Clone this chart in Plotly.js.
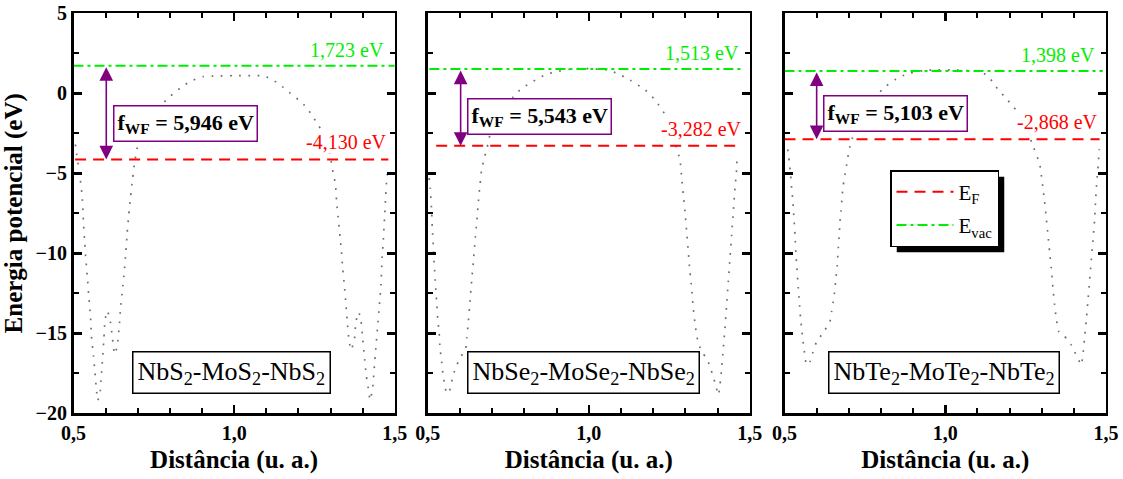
<!DOCTYPE html>
<html>
<head>
<meta charset="utf-8">
<script src="https://cdn.plot.ly/plotly-3.0.1.min.js"></script>
<style>
  html, body { margin: 0; padding: 0; background: #fff; }
  #chart { width: 1123px; height: 479px; }
</style>
</head>
<body>
<div id="chart"></div>
<script>
// Heterostructures, one panel each
const systems = [
  'NbS<sub>2</sub>-MoS<sub>2</sub>-NbS<sub>2</sub>',
  'NbSe<sub>2</sub>-MoSe<sub>2</sub>-NbSe<sub>2</sub>',
  'NbTe<sub>2</sub>-MoTe<sub>2</sub>-NbTe<sub>2</sub>'
];
const vacuumLevel = [1.723, 1.513, 1.398];     // eV
const fermiLevel = [-4.130, -3.282, -2.868];   // eV
const workFunction = [5.946, 5.543, 5.103];    // eV

// Planar-averaged electrostatic potential along the stacking direction
const distNbS = [0.506, 0.508, 0.520, 0.527, 0.531, 0.535, 0.539, 0.544, 0.548, 0.553, 0.556, 0.562, 0.567, 0.572, 0.575,
  0.582, 0.5865, 0.5905, 0.5947, 0.598, 0.605, 0.613, 0.621, 0.628, 0.636, 0.642, 0.6465, 0.652, 0.658, 0.663, 0.667,
  0.672, 0.6775, 0.684, 0.691, 0.701, 0.72, 0.75, 0.779, 0.80, 0.831, 0.862, 0.903, 0.944, 0.996, 1.058, 1.0895,
  1.121, 1.15, 1.172, 1.20, 1.224, 1.24, 1.262, 1.284, 1.298, 1.309, 1.315, 1.319, 1.325, 1.333, 1.338, 1.343, 1.348,
  1.353, 1.358, 1.364, 1.374, 1.379, 1.388, 1.395, 1.40, 1.405, 1.411, 1.419, 1.423, 1.431, 1.436, 1.441, 1.446,
  1.452, 1.457, 1.46, 1.464, 1.468, 1.472, 1.475, 1.478];
const potNbS = [-3.2, -3.54, -5.21, -6.46, -8.1, -9.4, -10.5, -11.7, -12.8, -14.0, -15.2, -16.4, -17.5, -18.65, -19.2,
  -18.85, -17.7, -16.56, -15.3, -14.2, -13.6, -14.06, -15.27, -16.3, -15.83, -14.65, -13.44, -12.3, -11.15, -9.9, -8.75,
  -7.6, -6.46, -5.31, -4.23, -3.19, -2.4, -1.4, -0.62, -0.21, 0.31, 0.73, 1.04, 1.08, 1.1, 1.1, 1.1,
  0.83, 0.42, 0.05, -0.4, -0.85, -1.3, -2.0, -2.71, -3.8, -5.06, -5.63, -6.77, -8.02, -9.69, -10.94, -11.98, -13.23,
  -14.48, -15.52, -16.04, -15.42, -14.27, -13.69, -14.27, -15.31, -16.35, -17.6, -18.65, -19.17, -18.44, -17.19, -15.94, -14.69,
  -13.23, -11.98, -10.52, -9.27, -7.81, -6.35, -5.31, -4.9];

const distNbSe = [0.504, 0.5076, 0.512, 0.514, 0.517, 0.520, 0.524, 0.5275, 0.5306, 0.535, 0.538, 0.543, 0.548, 0.553,
  0.5586, 0.566, 0.572, 0.579, 0.590, 0.603, 0.6176, 0.621, 0.626, 0.631, 0.636, 0.6415, 0.6466, 0.652, 0.657, 0.662,
  0.667, 0.6745, 0.683, 0.688, 0.693, 0.73, 0.7657, 0.7916, 0.8175, 0.8434, 0.8692, 0.900, 0.94, 0.978, 1.004, 1.056,
  1.087, 1.128, 1.175, 1.206, 1.247, 1.265, 1.2832, 1.2884, 1.2935, 1.2987, 1.3039, 1.309, 1.3142, 1.3194, 1.3245,
  1.3318, 1.338, 1.3504, 1.366, 1.3763, 1.3846, 1.3939, 1.4022, 1.4074, 1.4125, 1.4177, 1.4229, 1.428, 1.4332, 1.4384,
  1.4436, 1.4487, 1.4539, 1.459, 1.460];
const potNbSe = [-5.3, -5.94, -7.4, -8.44, -9.48, -10.73, -11.98, -13.02, -14.06, -14.9, -15.94, -16.77, -17.71, -18.23,
  -18.75, -18.69, -18.23, -17.6, -16.98, -16.46, -15.94, -15.31, -14.27, -13.02, -11.77, -10.52, -9.27, -8.02, -6.77, -5.73,
  -4.79, -4.17, -3.44, -3.13, -2.6, -1.2, -0.21, 0.31, 0.63, 0.94, 1.19, 1.35, 1.5, 1.56, 1.53, 1.46,
  1.25, 0.83, 0.21, -0.42, -1.67, -2.9, -4.17, -5.31, -6.35, -7.4, -8.65, -9.9, -11.15, -12.19, -13.44,
  -14.69, -15.42, -16.15, -16.56, -17.08, -17.6, -18.23, -18.85, -18.23, -17.19, -15.94, -14.69, -13.23, -11.77, -10.31,
  -8.85, -7.4, -5.94, -4.79, -4.2];

const distNbTe = [0.510, 0.5119, 0.515, 0.5191, 0.5222, 0.5253, 0.5274, 0.5295, 0.5326, 0.5357, 0.5378, 0.543, 0.546,
  0.550, 0.5533, 0.5564, 0.5606, 0.5637, 0.5689, 0.5792, 0.5875, 0.600, 0.6154, 0.6258, 0.6413, 0.6465, 0.6516, 0.6548,
  0.660, 0.6641, 0.6672, 0.6703, 0.6724, 0.6755, 0.6796, 0.6827, 0.6879, 0.6931, 0.6983, 0.7034, 0.7117, 0.75, 0.7914,
  0.807, 0.8473, 0.868, 0.8887, 0.930, 0.957, 1.035, 1.08, 1.1124, 1.1383, 1.154, 1.1693, 1.19, 1.2055, 1.2262, 1.2418,
  1.2521, 1.257, 1.275, 1.2936, 1.2988, 1.304, 1.3091, 1.3143, 1.3195, 1.3246, 1.3298, 1.335, 1.3402, 1.3453, 1.3536,
  1.366, 1.3815, 1.3919, 1.4022, 1.4126, 1.4229, 1.4281, 1.4332, 1.4384, 1.4436, 1.4487, 1.4539, 1.4591, 1.4642,
  1.4674, 1.4715, 1.4756, 1.4777, 1.479];
const potNbTe = [-3.5, -3.85, -4.27, -5.1, -5.94, -6.56, -7.19, -7.81, -8.85, -10.1, -10.73, -12.19, -13.02,
  -14.06, -14.69, -15.31, -15.94, -16.46, -16.98, -16.77, -16.25, -15.52, -15.1, -14.79, -14.27, -13.65, -13.02, -12.6,
  -11.56, -10.73, -9.69, -8.85, -8.02, -7.4, -6.35, -5.73, -5.1, -4.48, -3.85, -3.33, -2.77, -1.3, -0.06,
  0.31, 0.89, 1.1, 1.25, 1.42, 1.46, 1.46, 1.4, 1.35, 0.94, 0.52, 0.1, -0.31, -0.73, -1.15, -1.56,
  -1.98, -2.4, -3.4, -4.4, -5.1, -5.94, -6.77, -7.81, -8.85, -9.9, -10.94, -12.19, -13.23, -14.06, -14.9,
  -15.1, -15.42, -15.73, -16.15, -16.56, -16.98, -16.35, -15.31, -14.27, -13.02, -11.77, -10.52, -9.27, -8.02,
  -6.77, -5.52, -4.48, -3.85, -3.5];

const distances = [distNbS, distNbSe, distNbTe];
const potentials = [potNbS, potNbSe, potNbTe];

// Per-panel drawing placement
const panels = [
  { domain: [0.06545, 0.35155], efSpan: [0.505, 1.48], vacSpan: [0.50, 1.50], arrowX: 0.602, wfBox: [0.6236, -1.89], nameX: 0.991 },
  { domain: [0.38094, 0.66768], efSpan: [0.526, 1.459], vacSpan: [0.505, 1.475], arrowX: 0.602, wfBox: [0.6208, -1.43], nameX: 0.983 },
  { domain: [0.69858, 0.98486], efSpan: [0.50, 1.48], vacSpan: [0.50, 1.49], arrowX: 0.600, wfBox: [0.6205, -1.26], nameX: 0.997 }
];

const SERIF = 'Liberation Serif, Times New Roman, serif';
const RED = '#ff0000', GREEN = '#00ee00', PURPLE = '#800080';
const fmt = v => v.toFixed(3).replace('.', ',');

const traces = [];
const annotations = [];
const layout = {
  width: 1123, height: 479,
  margin: { l: 0, r: 0, t: 0, b: 0 },
  paper_bgcolor: '#fff', plot_bgcolor: '#fff',
  separators: ',.',
  font: { family: SERIF, color: '#000' },
  showlegend: true,
  legend: {
    x: 890 / 1123, y: 1 - 170 / 479, xanchor: 'left', yanchor: 'top',
    bgcolor: '#fff', bordercolor: '#000', borderwidth: 1.5,
    font: { family: SERIF, size: 21, color: '#000' },
    itemwidth: 57, tracegroupgap: 3, traceorder: 'grouped'
  },
  annotations: annotations,
  shapes: []
};

const frame = {
  showline: true, linecolor: '#000', linewidth: 2.5, mirror: 'allticks',
  ticks: 'inside', ticklen: 8, tickwidth: 2.5, tickcolor: '#000',
  showgrid: false, zeroline: false, fixedrange: true
};

panels.forEach((p, i) => {
  const s = i === 0 ? '' : String(i + 1);
  const xa = 'x' + s, ya = 'y' + s;

  layout['xaxis' + s] = Object.assign({}, frame, {
    domain: p.domain, anchor: ya, range: [0.5, 1.5],
    tick0: 0.5, dtick: 0.5, tickformat: '.1f',
    tickfont: { family: SERIF, size: 20, weight: 'bold' },
    minor: { dtick: 0.1, ticks: 'inside', ticklen: 5, tickwidth: 2, tickcolor: '#000', showgrid: false },
    title: { text: 'Distância (u. a.)', font: { family: SERIF, size: 25, weight: 'bold' }, standoff: 8 }
  });
  layout['yaxis' + s] = Object.assign({}, frame, {
    domain: [0.13716, 0.97223], anchor: xa, range: [-20, 5],
    tick0: 0, dtick: 5, showticklabels: i === 0,
    tickfont: { family: SERIF, size: 20, weight: 'bold' },
    minor: { dtick: 2.5, ticks: 'inside', ticklen: 5, tickwidth: 2, tickcolor: '#000', showgrid: false },
    title: i === 0 ? { text: 'Energia potencial (eV)', font: { family: SERIF, size: 25, weight: 'bold' }, standoff: 6 } : { text: '' }
  });

  // potential profile
  traces.push({
    x: distances[i], y: potentials[i], xaxis: xa, yaxis: ya,
    type: 'scatter', mode: 'lines', showlegend: false, hoverinfo: 'skip',
    line: { color: '#6e6e6e', width: 1.7, dash: '1.7px,7.5px', shape: 'spline', smoothing: 0.5 }
  });
  // Fermi level
  traces.push({
    x: p.efSpan, y: [fermiLevel[i], fermiLevel[i]], xaxis: xa, yaxis: ya,
    type: 'scatter', mode: 'lines', name: 'E<sub>F</sub>', legendgroup: 'ef', showlegend: i === 0,
    line: { color: RED, width: 2, dash: '11px,7px' }
  });
  // vacuum level
  traces.push({
    x: p.vacSpan, y: [vacuumLevel[i], vacuumLevel[i]], xaxis: xa, yaxis: ya,
    type: 'scatter', mode: 'lines', name: 'E<sub>vac</sub>', legendgroup: 'vac', showlegend: i === 0,
    line: { color: GREEN, width: 2, dash: '10px,4px,3px,4px' }
  });

  // level values
  annotations.push({
    xref: xa, yref: ya, x: 1.47, y: vacuumLevel[i], xanchor: 'right', yanchor: 'middle', yshift: 16,
    text: fmt(vacuumLevel[i]) + ' eV', showarrow: false, bgcolor: '#fff', borderpad: 0,
    font: { family: SERIF, size: 20, color: GREEN }
  });
  annotations.push({
    xref: xa, yref: ya, x: 1.478, y: fermiLevel[i], xanchor: 'right', yanchor: 'middle', yshift: 17,
    text: fmt(fermiLevel[i]) + ' eV', showarrow: false, bgcolor: '#fff', borderpad: 0,
    font: { family: SERIF, size: 20, color: RED }
  });

  // work-function double arrow between the two levels
  annotations.push({
    xref: xa, yref: ya, axref: xa, ayref: ya,
    x: p.arrowX, y: fermiLevel[i], ax: p.arrowX, ay: vacuumLevel[i],
    text: '', showarrow: true, arrowside: 'end+start', arrowhead: 2, arrowsize: 1.7,
    arrowwidth: 1.6, arrowcolor: PURPLE, standoff: 0, startstandoff: 0
  });
  annotations.push({
    xref: xa, yref: ya, x: p.wfBox[0], y: p.wfBox[1], xanchor: 'left', yanchor: 'middle',
    text: '<b>f<sub>WF</sub> = ' + fmt(workFunction[i]) + ' eV</b>', showarrow: false,
    bgcolor: '#fff', bordercolor: PURPLE, borderwidth: 1.5, borderpad: 3,
    font: { family: SERIF, size: 22, color: '#000' }
  });

  // system name
  annotations.push({
    xref: xa, yref: ya, x: p.nameX, y: -17.43, xanchor: 'center', yanchor: 'middle',
    text: systems[i], showarrow: false,
    bgcolor: '#fff', bordercolor: '#000', borderwidth: 1.5, borderpad: 4,
    font: { family: SERIF, size: 26, color: '#000' }
  });
});

const gd = document.getElementById('chart');
Plotly.newPlot(gd, traces, layout, { displayModeBar: false, staticPlot: true }).then(() => {
  // drop shadow behind the legend box
  const bg = gd.querySelector('.legend .bg');
  if (!bg) return;
  const r = bg.getBoundingClientRect();
  const o = gd.getBoundingClientRect();
  const W = 1123, H = 479, off = 6;
  const left = r.left - o.left + off, top = r.top - o.top + off;
  return Plotly.relayout(gd, {
    shapes: [{
      type: 'rect', xref: 'paper', yref: 'paper', layer: 'above',
      x0: left / W, x1: (left + r.width) / W, y0: 1 - (top + r.height) / H, y1: 1 - top / H,
      fillcolor: '#000', line: { width: 0 }
    }]
  });
});
</script>
</body>
</html>
